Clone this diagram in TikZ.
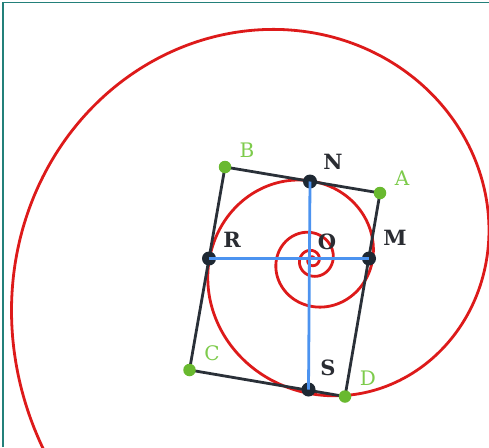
\documentclass[tikz,border=0pt]{standalone}
\usepackage{fontspec}
\setmainfont{DejaVu Serif}
\definecolor{spiralred}{HTML}{DD1A1A}
\definecolor{edgegray}{HTML}{2A3038}
\definecolor{axisblue}{HTML}{4C93F0}
\definecolor{ptdark}{HTML}{1E2833}
\definecolor{ptgreen}{HTML}{69B92F}
\definecolor{lblgreen}{HTML}{7DCB4B}
\definecolor{lbldark}{HTML}{2A2C32}
\definecolor{frameteal}{HTML}{23807A}
\begin{document}
\begin{tikzpicture}[x=1pt,y=-1pt,
  spiralline/.style={draw=spiralred, line width=2.8pt},
  sideline/.style={draw=edgegray, line width=2.8pt, line join=round},
  axisline/.style={draw=axisblue, line width=2.8pt},
  darkpt/.style={circle, fill=ptdark, inner sep=0pt, minimum size=14pt},
  greenpt/.style={circle, fill=ptgreen, inner sep=0pt, minimum size=12.5pt},
  darklbl/.style={text=lbldark, inner sep=0pt, font=\fontsize{21}{21}\selectfont\bfseries},
  greenlbl/.style={text=lblgreen, inner sep=0pt, font=\fontsize{20}{20}\selectfont},
  framestyle/.style={draw=frameteal, line width=1.4pt}]
\useasboundingbox (0,0) rectangle (489,447);
% frame
\draw[framestyle] (3,447) -- (3,2.5) -- (489,2.5);
% spiral
\begin{scope}
  \clip (4,4) rectangle (489,447);
  \draw[spiralline] plot[domain=-12:16.5, samples=700, smooth]
    ({312+21*exp(0.1685*\x)*cos(\x r)}, {260-21*exp(0.1685*\x)*sin(\x r)});
\end{scope}
% points
\coordinate (A) at (380,193);
\coordinate (B) at (225,167);
\coordinate (C) at (189.5,370);
\coordinate (D) at (345,396.5);
\coordinate (N) at (310,181.5);
\coordinate (M) at (369,258.5);
\coordinate (S) at (308.5,389.5);
\coordinate (R) at (209,258.5);
% rectangle
\draw[sideline] (B) -- (A) -- (D) -- (C) -- cycle;
% dots
\node[greenpt] (Ad) at (A) {};
\node[greenpt] (Bd) at (B) {};
\node[greenpt] (Cd) at (C) {};
\node[greenpt] (Dd) at (D) {};
\node[darkpt] (Nd) at (N) {};
\node[darkpt] (Md) at (M) {};
\node[darkpt] (Sd) at (S) {};
\node[darkpt] (Rd) at (R) {};
% axes
\draw[axisline] (N) -- (S);
\draw[axisline] (R) -- (M);
% labels
\node[darklbl] (lN) at (333,162) {N};
\node[darklbl] (lM) at (395,238) {M};
\node[darklbl] (lR) at (232,240) {R};
\node[darklbl] (lS) at (328,368) {S};
\node[darklbl] (lO) at (327,242) {O};
\node[greenlbl] (lA) at (402,178) {A};
\node[greenlbl] (lB) at (247,150) {B};
\node[greenlbl] (lC) at (212,353) {C};
\node[greenlbl] (lD) at (368,378) {D};
\end{tikzpicture}
\end{document}
